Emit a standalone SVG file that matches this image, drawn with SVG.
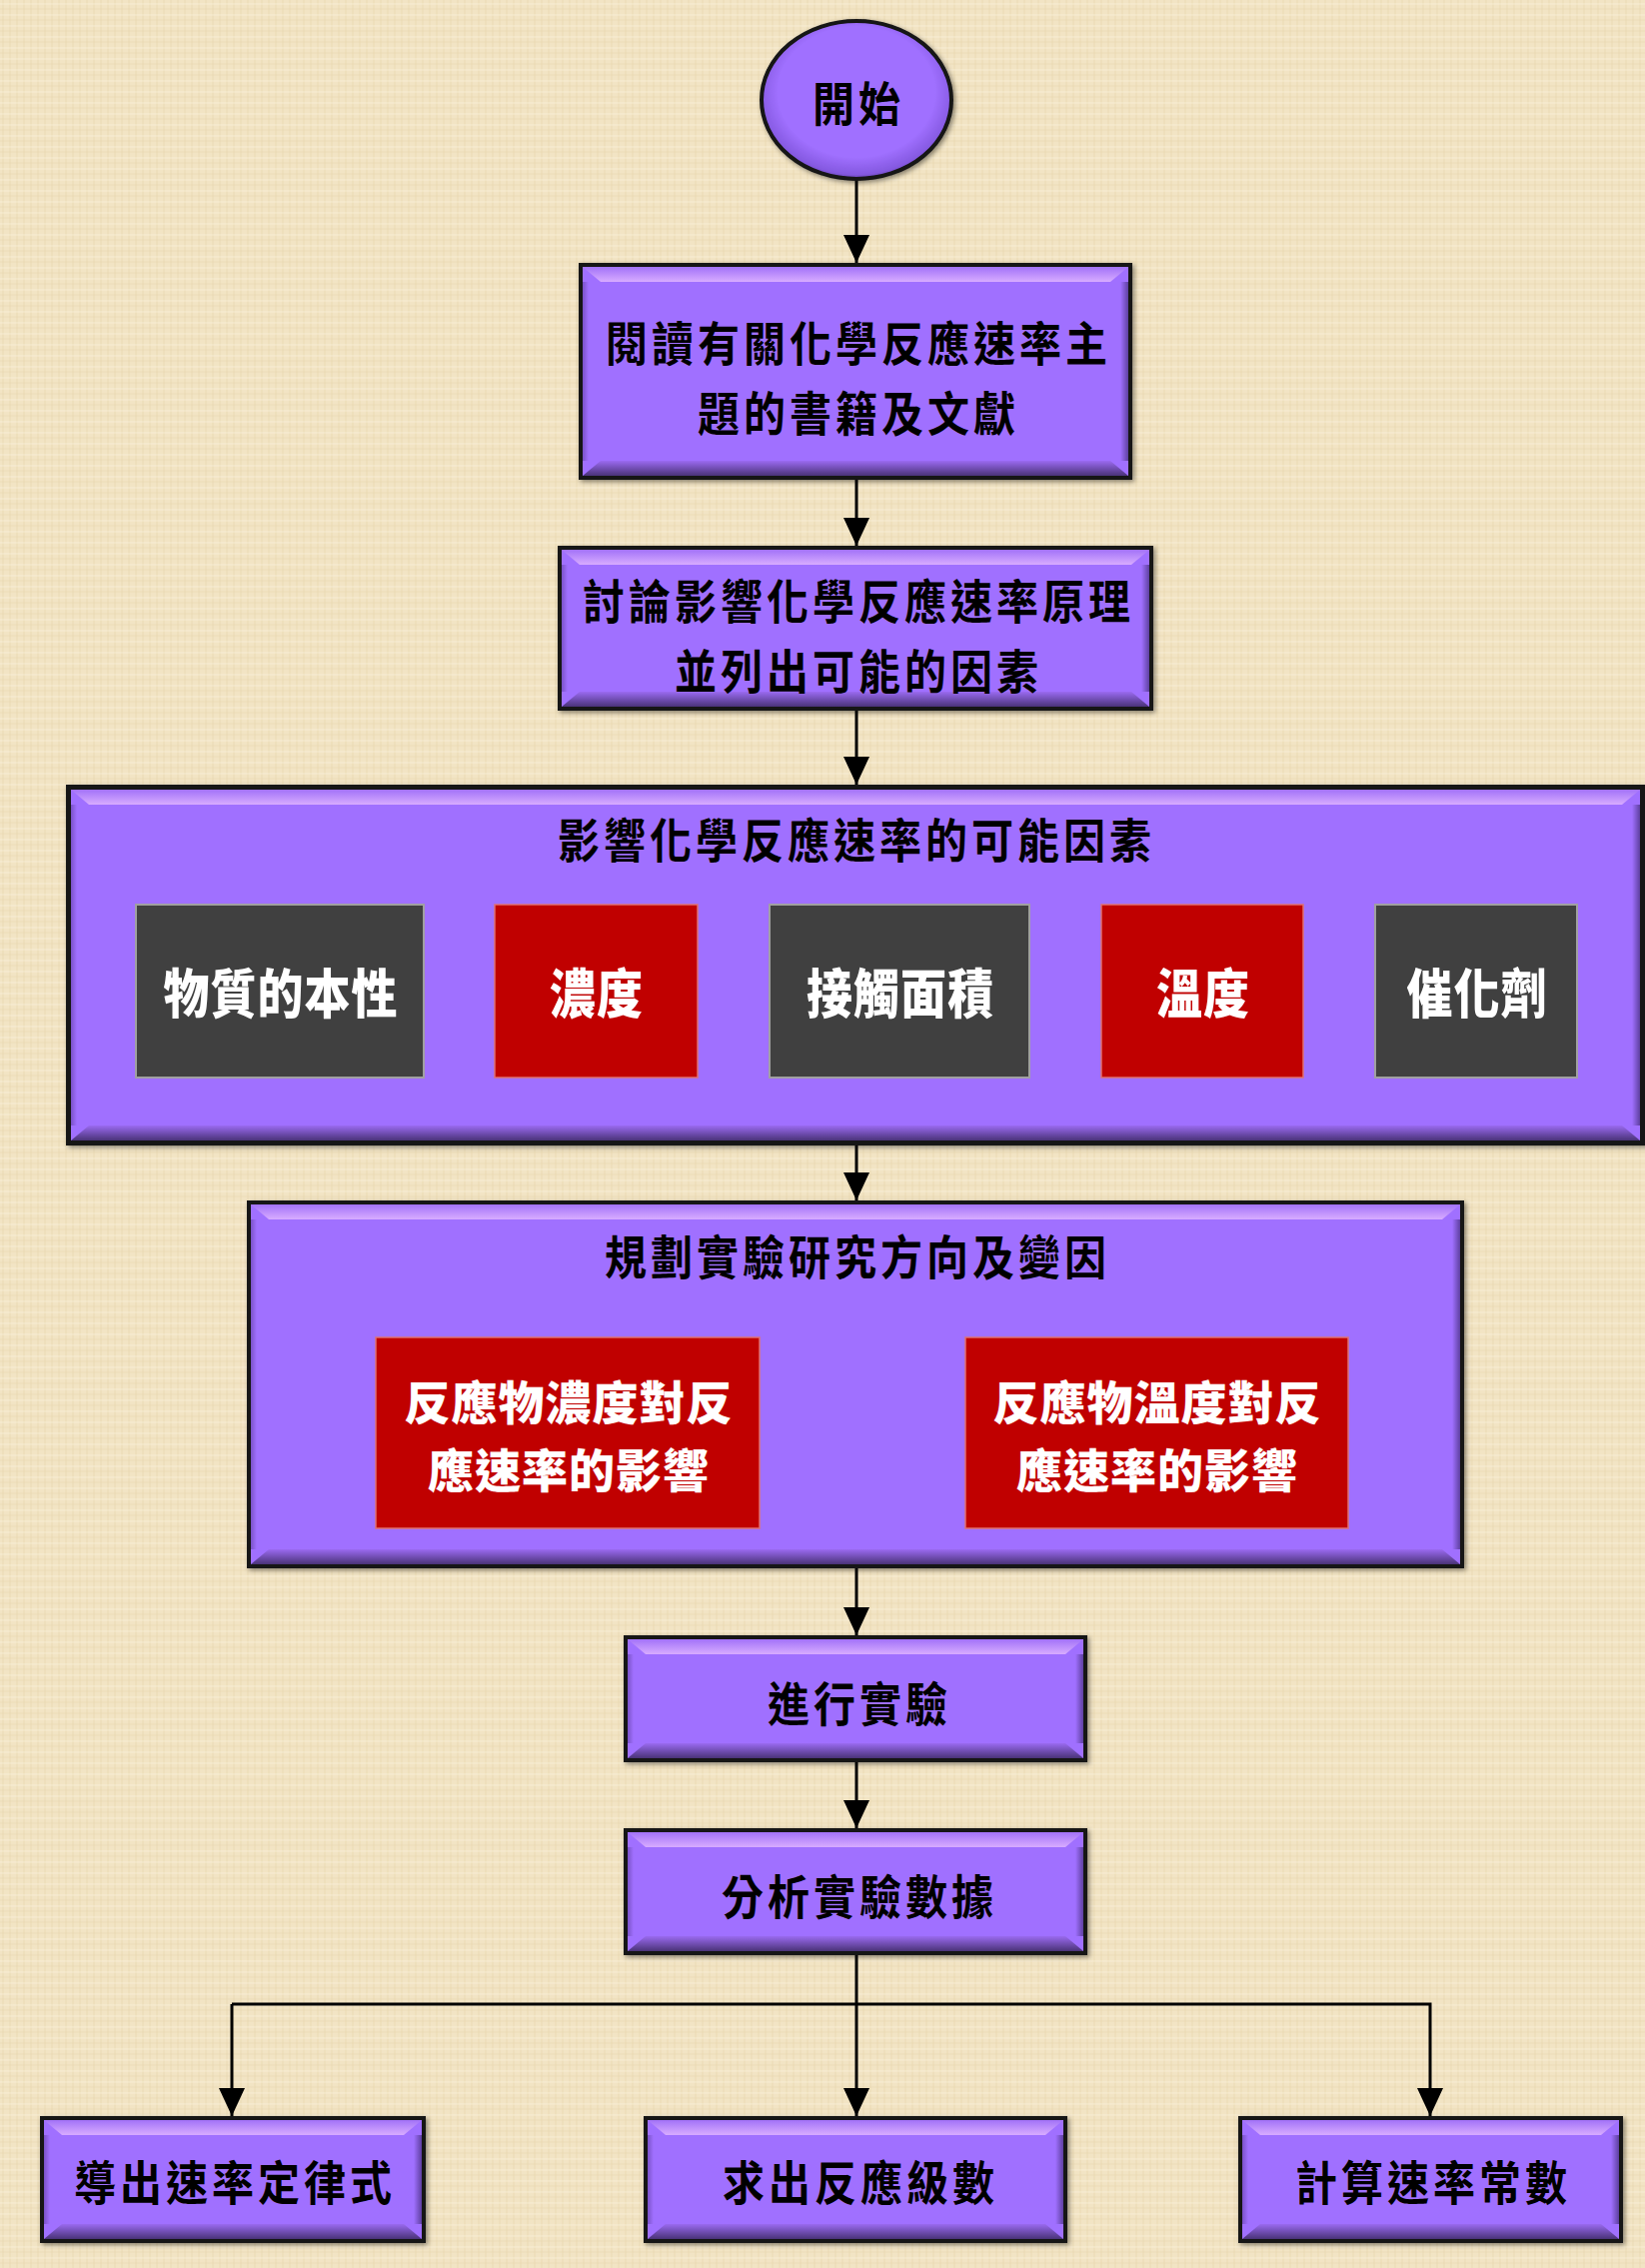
<svg xmlns="http://www.w3.org/2000/svg" width="1646" height="2269" viewBox="0 0 1646 2269">
<style>
.k{font-family:"Noto Sans CJK TC","Noto Sans CJK SC",sans-serif;font-size:42px;font-weight:600;fill:#000;text-anchor:middle;dominant-baseline:central;letter-spacing:4px}
.w{font-family:"Noto Sans CJK TC","Noto Sans CJK SC",sans-serif;font-size:46px;font-weight:900;fill:#fff;text-anchor:middle;dominant-baseline:central;letter-spacing:1px}
.brd{fill:#141414}
.body{fill:#A070FF}
.tb{fill:url(#gTop)}
.bb{fill:url(#gBot)}
.lb{fill:url(#gLeft)}
.rb{fill:url(#gRight)}
.dark{fill:#404040;stroke:#A0A0A0;stroke-width:2}
.red{fill:#C00000;stroke:#E07070;stroke-width:1.5}
.con{stroke:#000;stroke-width:3;fill:none}
</style>
<defs>
<pattern id="tex" width="14" height="11" patternUnits="userSpaceOnUse">
<rect width="14" height="11" fill="#F2E4C4"/>
<path d="M3 0V11M10 0V11" stroke="#E2CFA2" stroke-width="1" opacity="0.5"/>
<path d="M0 4H14" stroke="#FBF3DE" stroke-width="1" opacity="0.6"/>
<path d="M0 9H14" stroke="#E6D4AA" stroke-width="1" opacity="0.45"/>
</pattern>
<linearGradient id="gTop" x1="0" y1="0" x2="0" y2="1"><stop offset="0" stop-color="#A272F8"/><stop offset="1" stop-color="#D8ACFF"/></linearGradient>
<linearGradient id="gBot" x1="0" y1="0" x2="0" y2="1"><stop offset="0" stop-color="#9A6AF0"/><stop offset="1" stop-color="#4A3378"/></linearGradient>
<linearGradient id="gLeft" x1="0" y1="0" x2="1" y2="0"><stop offset="0" stop-color="#7A52C8"/><stop offset="1" stop-color="#A070FF"/></linearGradient>
<linearGradient id="gRight" x1="0" y1="0" x2="1" y2="0"><stop offset="0" stop-color="#A070FF"/><stop offset="1" stop-color="#5E40A0"/></linearGradient>
<radialGradient id="gEll" cx="0.5" cy="0.45" r="0.55"><stop offset="0.75" stop-color="#A070FF"/><stop offset="0.95" stop-color="#8458E0"/><stop offset="1" stop-color="#5E40A0"/></radialGradient>
<filter id="sh" x="-5%" y="-5%" width="110%" height="110%"><feDropShadow dx="2" dy="2" stdDeviation="2.5" flood-color="#000" flood-opacity="0.45"/></filter>
<marker id="ah" markerUnits="userSpaceOnUse" markerWidth="28" markerHeight="26" refX="28" refY="13" orient="auto"><path d="M0 0L28 13L0 26z" fill="#000"/></marker>
</defs>
<rect width="1646" height="2269" fill="url(#tex)"/>

<g id="connectors">
<line class="con" x1="857" y1="179" x2="857" y2="263" marker-end="url(#ah)"/>
<line class="con" x1="857" y1="480" x2="857" y2="546" marker-end="url(#ah)"/>
<line class="con" x1="857" y1="711" x2="857" y2="785" marker-end="url(#ah)"/>
<line class="con" x1="857" y1="1146" x2="857" y2="1201" marker-end="url(#ah)"/>
<line class="con" x1="857" y1="1569" x2="857" y2="1636" marker-end="url(#ah)"/>
<line class="con" x1="857" y1="1763" x2="857" y2="1829" marker-end="url(#ah)"/>
<line class="con" x1="857" y1="1956" x2="857" y2="2117" marker-end="url(#ah)"/>
<polyline class="con" points="232,2005 1431,2005 1431,2117" marker-end="url(#ah)"/>
<line class="con" x1="232" y1="2005" x2="232" y2="2117" marker-end="url(#ah)"/>
</g>

<g id="start">
<ellipse cx="857" cy="100" rx="95" ry="79" fill="url(#gEll)" stroke="#141414" stroke-width="4" filter="url(#sh)"/>
<text class="k" transform="translate(859 100) scale(1 1.12)">開始</text>
</g>

<g id="n1">
<rect class="brd" x="579" y="263" width="554" height="217" filter="url(#sh)"/>
<rect class="body" x="583" y="267" width="546" height="209"/>
<polygon class="tb" points="583,267 1129,267 1111,282 601,282"/>
<polygon class="bb" points="583,476 1129,476 1111,461 601,461"/>
<rect class="lb" x="583" y="282" width="6" height="179"/>
<rect class="rb" x="1121" y="282" width="8" height="179"/>
<text class="k" transform="translate(859 340) scale(1 1.12)">閱讀有關化學反應速率主</text>
<text class="k" transform="translate(859 410) scale(1 1.12)">題的書籍及文獻</text>
</g>

<g id="n2">
<rect class="brd" x="558" y="546" width="596" height="165" filter="url(#sh)"/>
<rect class="body" x="562" y="550" width="588" height="157"/>
<polygon class="tb" points="562,550 1150,550 1132,565 580,565"/>
<polygon class="bb" points="562,707 1150,707 1132,692 580,692"/>
<rect class="lb" x="562" y="565" width="6" height="127"/>
<rect class="rb" x="1142" y="565" width="8" height="127"/>
<text class="k" transform="translate(859 598) scale(1 1.12)">討論影響化學反應速率原理</text>
<text class="k" transform="translate(859 668) scale(1 1.12)">並列出可能的因素</text>
</g>

<g id="n3">
<rect class="brd" x="66" y="785" width="1584" height="361" filter="url(#sh)"/>
<rect class="body" x="71" y="790" width="1570" height="351"/>
<polygon class="tb" points="71,790 1641,790 1623,805 89,805"/>
<polygon class="bb" points="71,1141 1641,1141 1623,1126 89,1126"/>
<rect class="lb" x="71" y="805" width="6" height="321"/>
<rect class="rb" x="1633" y="805" width="8" height="321"/>
<text class="k" transform="translate(857 837) scale(1 1.12)">影響化學反應速率的可能因素</text>
<g id="f1"><rect class="dark" x="136" y="905" width="288" height="173"/><text class="w" transform="translate(281 991) scale(1 1.15)">物質的本性</text></g>
<g id="f2"><rect class="red" x="495" y="905" width="203" height="173"/><text class="w" transform="translate(597 991) scale(1 1.15)">濃度</text></g>
<g id="f3"><rect class="dark" x="770" y="905" width="260" height="173"/><text class="w" transform="translate(901 991) scale(1 1.15)">接觸面積</text></g>
<g id="f4"><rect class="red" x="1102" y="905" width="202" height="173"/><text class="w" transform="translate(1204 991) scale(1 1.15)">溫度</text></g>
<g id="f5"><rect class="dark" x="1376" y="905" width="202" height="173"/><text class="w" transform="translate(1478 991) scale(1 1.15)">催化劑</text></g>
</g>

<g id="n4">
<rect class="brd" x="247" y="1201" width="1218" height="368" filter="url(#sh)"/>
<rect class="body" x="251" y="1205" width="1210" height="360"/>
<polygon class="tb" points="251,1205 1461,1205 1443,1220 269,1220"/>
<polygon class="bb" points="251,1565 1461,1565 1443,1550 269,1550"/>
<rect class="lb" x="251" y="1220" width="6" height="330"/>
<rect class="rb" x="1453" y="1220" width="8" height="330"/>
<text class="k" transform="translate(858 1254) scale(1 1.12)">規劃實驗研究方向及變因</text>
<g id="v1"><rect class="red" x="376" y="1338" width="384" height="191"/>
<text class="w" x="569" y="1400">反應物濃度對反</text>
<text class="w" x="569" y="1468">應速率的影響</text></g>
<g id="v2"><rect class="red" x="966" y="1338" width="383" height="191"/>
<text class="w" x="1158" y="1400">反應物溫度對反</text>
<text class="w" x="1158" y="1468">應速率的影響</text></g>
</g>

<g id="n5">
<rect class="brd" x="624" y="1636" width="464" height="127" filter="url(#sh)"/>
<rect class="body" x="628" y="1640" width="456" height="119"/>
<polygon class="tb" points="628,1640 1084,1640 1066,1655 646,1655"/>
<polygon class="bb" points="628,1759 1084,1759 1066,1744 646,1744"/>
<rect class="lb" x="628" y="1655" width="6" height="89"/>
<rect class="rb" x="1076" y="1655" width="8" height="89"/>
<text class="k" transform="translate(860 1701) scale(1 1.12)">進行實驗</text>
</g>

<g id="n6">
<rect class="brd" x="624" y="1829" width="464" height="127" filter="url(#sh)"/>
<rect class="body" x="628" y="1833" width="456" height="119"/>
<polygon class="tb" points="628,1833 1084,1833 1066,1848 646,1848"/>
<polygon class="bb" points="628,1952 1084,1952 1066,1937 646,1937"/>
<rect class="lb" x="628" y="1848" width="6" height="89"/>
<rect class="rb" x="1076" y="1848" width="8" height="89"/>
<text class="k" transform="translate(860 1894) scale(1 1.12)">分析實驗數據</text>
</g>

<g id="n7">
<rect class="brd" x="40" y="2117" width="386" height="127" filter="url(#sh)"/>
<rect class="body" x="44" y="2121" width="378" height="119"/>
<polygon class="tb" points="44,2121 422,2121 404,2136 62,2136"/>
<polygon class="bb" points="44,2240 422,2240 404,2225 62,2225"/>
<rect class="lb" x="44" y="2136" width="6" height="89"/>
<rect class="rb" x="414" y="2136" width="8" height="89"/>
<text class="k" transform="translate(235 2180) scale(1 1.12)">導出速率定律式</text>
</g>

<g id="n8">
<rect class="brd" x="644" y="2117" width="424" height="127" filter="url(#sh)"/>
<rect class="body" x="648" y="2121" width="416" height="119"/>
<polygon class="tb" points="648,2121 1064,2121 1046,2136 666,2136"/>
<polygon class="bb" points="648,2240 1064,2240 1046,2225 666,2225"/>
<rect class="lb" x="648" y="2136" width="6" height="89"/>
<rect class="rb" x="1056" y="2136" width="8" height="89"/>
<text class="k" transform="translate(861 2180) scale(1 1.12)">求出反應級數</text>
</g>

<g id="n9">
<rect class="brd" x="1239" y="2117" width="385" height="127" filter="url(#sh)"/>
<rect class="body" x="1243" y="2121" width="377" height="119"/>
<polygon class="tb" points="1243,2121 1620,2121 1602,2136 1261,2136"/>
<polygon class="bb" points="1243,2240 1620,2240 1602,2225 1261,2225"/>
<rect class="lb" x="1243" y="2136" width="6" height="89"/>
<rect class="rb" x="1612" y="2136" width="8" height="89"/>
<text class="k" transform="translate(1434 2180) scale(1 1.12)">計算速率常數</text>
</g>
</svg>
